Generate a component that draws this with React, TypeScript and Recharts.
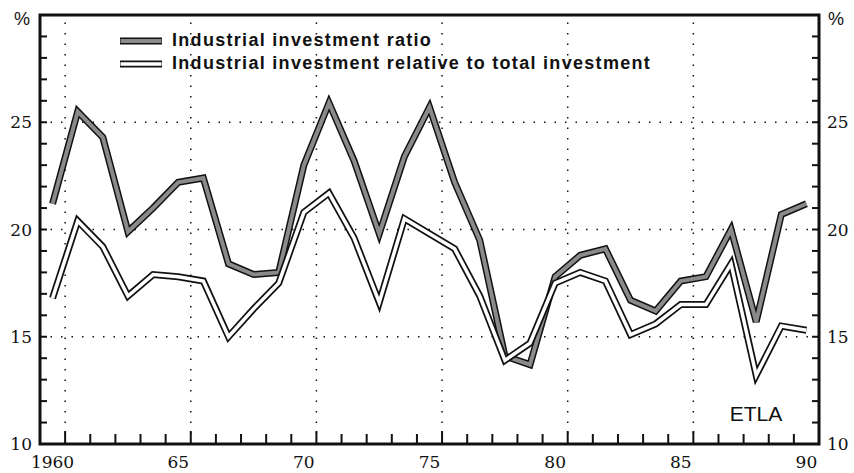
import React from "react";
import { LineChart, Line, XAxis, YAxis, ReferenceLine } from "recharts";

const years = [
  1960, 1961, 1962, 1963, 1964, 1965, 1966, 1967, 1968, 1969,
  1970, 1971, 1972, 1973, 1974, 1975, 1976, 1977, 1978, 1979,
  1980, 1981, 1982, 1983, 1984, 1985, 1986, 1987, 1988, 1989, 1990
];
// industrial investment ratio (grey band)
const ratio = [
  21.2, 25.5, 24.3, 19.9, 21.0, 22.2, 22.4, 18.4, 17.9, 18.0,
  23.0, 25.9, 23.2, 19.8, 23.4, 25.7, 22.2, 19.5, 14.1, 13.7,
  17.8, 18.8, 19.1, 16.7, 16.2, 17.6, 17.8, 20.0, 15.7, 20.7, 21.2
];
// industrial investment relative to total investment (hollow band)
const relative = [
  16.8, 20.4, 19.2, 16.9, 17.9, 17.8, 17.6, 15.0, 16.3, 17.5,
  20.8, 21.7, 19.6, 16.6, 20.5, 19.8, 19.1, 16.9, 13.9, 14.7,
  17.5, 18.0, 17.6, 15.1, 15.6, 16.5, 16.5, 18.4, 13.2, 15.5, 15.3
];
const xLabels: Record<number, string> = {
  1960: "1960", 1965: "65", 1970: "70", 1975: "75", 1980: "80", 1985: "85", 1990: "90"
};
const gridYears = [1960.5, 1965.5, 1970.5, 1975.5, 1980.5, 1985.5];
const gridValues = [15, 20, 25];
const yTicks = [10, 11, 12, 13, 14, 15, 16, 17, 18, 19, 20, 21, 22, 23, 24, 25, 26, 27, 28, 29, 30];
const seriesNames = [
  "Industrial investment ratio",
  "Industrial investment relative to total investment"
];

const X_MIN = 1959.5;
const X_MAX = 1990.5;
const Y_MIN = 10;
const Y_MAX = 30;

const data = years.map((year, i) => ({ year, ratio: ratio[i], relative: relative[i] }));
const yearBounds = years.slice(0, -1).map((y) => y + 0.5);
const minorY = yTicks.filter((v) => v > Y_MIN && v < Y_MAX);

// plot box, from the chart margins and axis sizes below
const W = 854;
const H = 473;
const TOP = 15;
const LEFT = 40;
const RIGHT = W - 35;
const BOTTOM = H - 29;
const px = (v: number) => LEFT + ((v - X_MIN) / (X_MAX - X_MIN)) * (RIGHT - LEFT);
const py = (v: number) => BOTTOM - ((v - Y_MIN) / (Y_MAX - Y_MIN)) * (BOTTOM - TOP);

const ink = "#111";
const serif = "'DejaVu Serif', serif";
const sans = "'Liberation Sans', Arial, sans-serif";

const XTick = (props: any) => {
  const { x, y, payload } = props;
  const label = xLabels[payload.value];
  if (!label) return null;
  return (
    <text x={x} y={y + 16} textAnchor="middle" fontFamily={serif} fontSize={17} fill={ink}>
      {label}
    </text>
  );
};

const LeftTick = (props: any) => {
  const { x, y, payload } = props;
  const v = payload.value;
  if (v === Y_MAX)
    return <text x={x - 2} y={y + 10} textAnchor="end" fontFamily={sans} fontSize={18} fill={ink}>%</text>;
  if (v % 5 !== 0) return null;
  return <text x={x} y={y + 6} textAnchor="end" fontFamily={serif} fontSize={17} fill={ink}>{v}</text>;
};

const RightTick = (props: any) => {
  const { x, y, payload } = props;
  const v = payload.value;
  if (v === Y_MAX)
    return <text x={x + 1} y={y + 10} textAnchor="start" fontFamily={sans} fontSize={18} fill={ink}>%</text>;
  if (v % 5 !== 0) return null;
  return <text x={x} y={y + 6} textAnchor="start" fontFamily={serif} fontSize={17} fill={ink}>{v}</text>;
};

const ChartLegend = () => (
  <div
    style={{
      position: "absolute", left: 118, top: 29, fontFamily: sans, fontSize: 18,
      fontWeight: "bold", letterSpacing: 1.3, color: ink, lineHeight: "23px"
    }}
  >
    {seriesNames.map((name, i) => (
      <div key={name} style={{ display: "flex", alignItems: "center", height: 23 }}>
        <svg width={54} height={10}>
          <line x1={2} x2={44} y1={5} y2={5} stroke={ink} strokeWidth={7} />
          <line x1={2.5} x2={43.5} y1={5} y2={5} stroke={i === 0 ? "#8a8a8a" : "#fff"} strokeWidth={i === 0 ? 4 : 3.5} />
        </svg>
        <span>{name}</span>
      </div>
    ))}
  </div>
);

// frame and small tick marks, laid over the chart
const Frame = () => (
  <svg
    width={W}
    height={H}
    style={{ position: "absolute", left: 0, top: 0, pointerEvents: "none" }}
  >
    <rect x={LEFT} y={TOP} width={RIGHT - LEFT} height={BOTTOM - TOP} fill="none" stroke={ink} strokeWidth={3} />
    {yearBounds.map((v) => (
      <line key={"xt" + v} x1={px(v)} x2={px(v)} y1={BOTTOM} y2={BOTTOM - ((v - 0.5) % 5 === 0 ? 13 : 10)} stroke={ink} strokeWidth={2} />
    ))}
    {minorY.map((v) => (
      <line key={"yl" + v} x1={LEFT} x2={LEFT + 7} y1={py(v)} y2={py(v)} stroke={ink} strokeWidth={2} />
    ))}
    {minorY.map((v) => (
      <line key={"yr" + v} x1={RIGHT - 7} x2={RIGHT} y1={py(v)} y2={py(v)} stroke={ink} strokeWidth={2} />
    ))}
  </svg>
);

export default function App() {
  return (
    <div style={{ position: "absolute", left: 0, top: 0, width: W, height: H, background: "#fff" }}>
      <LineChart width={W} height={H} data={data} margin={{ top: TOP, right: 0, left: 0, bottom: 0 }}>
        <XAxis
          dataKey="year"
          type="number"
          domain={[X_MIN, X_MAX]}
          ticks={years}
          interval={0}
          tick={<XTick />}
          tickLine={false}
          axisLine={false}
          height={29}
        />
        <YAxis
          yAxisId="l"
          domain={[Y_MIN, Y_MAX]}
          ticks={yTicks}
          interval={0}
          tick={<LeftTick />}
          tickLine={false}
          axisLine={false}
          width={40}
        />
        <YAxis
          yAxisId="r"
          orientation="right"
          domain={[Y_MIN, Y_MAX]}
          ticks={yTicks}
          interval={0}
          tick={<RightTick />}
          tickLine={false}
          axisLine={false}
          width={35}
        />
        {gridValues.map((v) => (
          <ReferenceLine key={"h" + v} yAxisId="l" y={v} ifOverflow="visible" stroke={ink} strokeWidth={1.5} strokeDasharray="1.5 9" />
        ))}
        {gridYears.map((v) => (
          <ReferenceLine key={"v" + v} yAxisId="l" x={v} ifOverflow="visible" stroke={ink} strokeWidth={1.5} strokeDasharray="1.5 9" />
        ))}
        <Line yAxisId="l" type="linear" dataKey="ratio" stroke={ink} strokeWidth={7} dot={false} isAnimationActive={false} />
        <Line yAxisId="l" type="linear" dataKey="ratio" stroke="#8a8a8a" strokeWidth={4} dot={false} isAnimationActive={false} />
        <Line yAxisId="r" type="linear" dataKey="relative" stroke={ink} strokeWidth={7} dot={false} isAnimationActive={false} />
        <Line yAxisId="r" type="linear" dataKey="relative" stroke="#fff" strokeWidth={3.5} dot={false} isAnimationActive={false} />
        <text x={756} y={421} textAnchor="middle" fontFamily={sans} fontSize={21} fill={ink}>ETLA</text>
      </LineChart>
      <Frame />
      <ChartLegend />
    </div>
  );
}
